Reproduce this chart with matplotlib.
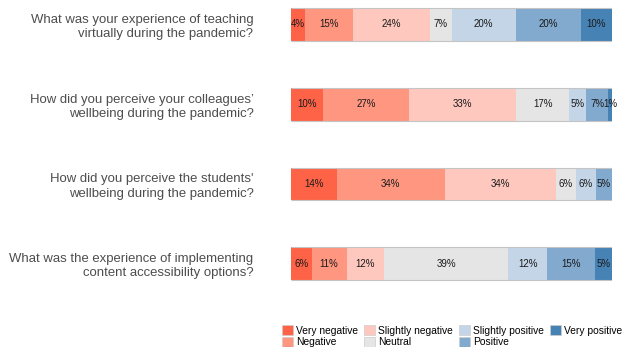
import numpy as np
import matplotlib.pyplot as plt
from matplotlib.patches import Patch

plt.rcParams['font.family'] = ['Liberation Sans', 'DejaVu Sans']

questions = [
    'What was your experience of teaching\nvirtually during the pandemic?',
    'How did you perceive your colleagues\u2019\nwellbeing during the pandemic?',
    "How did you perceive the students'\nwellbeing during the pandemic?",
    'What was the experience of implementing\ncontent accessibility options?',
]
levels = ['Very negative', 'Negative', 'Slightly negative', 'Neutral',
          'Slightly positive', 'Positive', 'Very positive']
colors = ['#FF6347', '#FF9680', '#FFC8BE', '#E5E5E5',
          '#C3D5E7', '#82A9CE', '#4682B4']

# share of answers (%) per question, one column per level
teaching = [4.4, 15.0, 23.8, 6.8, 20.1, 20.2, 9.7]
colleagues = [9.9, 26.9, 33.3, 16.6, 5.3, 6.8, 1.2]
students = [14.2, 33.8, 34.4, 6.3, 6.3, 5.0, 0.0]
accessibility = [6.4, 10.9, 11.7, 38.6, 12.2, 15.0, 5.2]

data = np.array([teaching, colleagues, students, accessibility])

fig = plt.figure(figsize=(6.24, 3.47), dpi=100)
ax = fig.add_axes([291 / 624, 47 / 347, 321 / 624, 300 / 347])

ypos = np.arange(len(questions))
bar_h = 0.41
left = np.zeros(len(questions))
for j, lev in enumerate(levels):
    vals = data[:, j]
    ax.barh(ypos, vals, left=left, height=bar_h, color=colors[j], linewidth=0)
    for i, v in enumerate(vals):
        if v > 0:
            ax.text(left[i] + v / 2, ypos[i], f'{v:.0f}%', ha='center', va='center',
                    fontsize=7, color='#1a1a1a')
    left += vals

# thin grey rule along top and bottom of each bar
totals = data.sum(axis=1)
ax.hlines(ypos - bar_h / 2, 0, totals, color='#c4c4c4', lw=0.8)
ax.hlines(ypos + bar_h / 2, 0, totals, color='#c4c4c4', lw=0.8)

ax.set_xlim(0, 100)
ax.set_ylim(3.455, -0.307)
ax.set_yticks(ypos)
ax.set_yticklabels(questions, fontsize=9.45, color='#4d4d4d', linespacing=1.25)
ax.tick_params(axis='y', length=0, pad=27)
ax.set_xticks([])
for s in ax.spines.values():
    s.set_visible(False)

handles = [Patch(facecolor=c, edgecolor='#cccccc', linewidth=0.5) for c in colors]
fig.legend(handles, levels, ncol=4, loc='upper left', bbox_to_anchor=(0.452, 0.062),
           frameon=False, fontsize=7.4, handlelength=1.07, handleheight=1.07,
           handletextpad=0.3, columnspacing=0.6, labelspacing=0.12, borderpad=0,
           borderaxespad=0)

fig.savefig('out.png', dpi=100)
